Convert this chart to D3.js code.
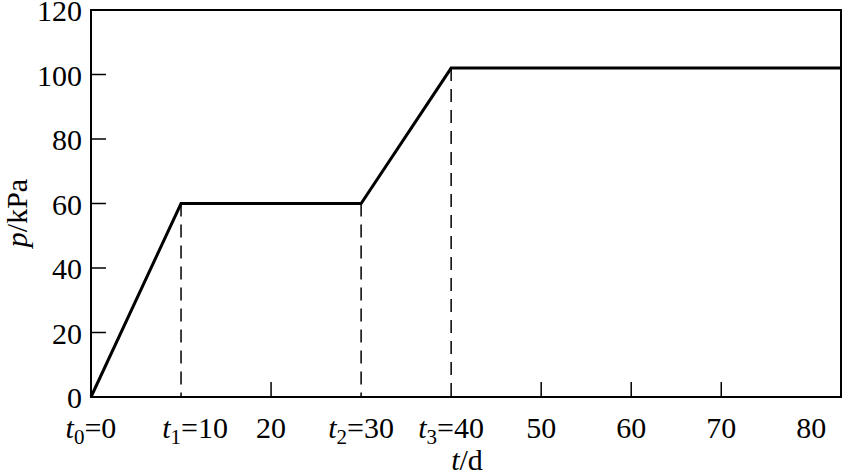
<!DOCTYPE html>
<html>
<head>
<meta charset="utf-8">
<script src="https://cdn.jsdelivr.net/npm/d3@7"></script>
<style>
  html, body { margin: 0; padding: 0; background: #fff; }
  svg { display: block; }
  text { font-family: "Liberation Serif", "Times New Roman", serif; fill: #000; }
</style>
</head>
<body>
<svg id="chart" width="856" height="472"></svg>
<script>
// ---- data ----
const timeDays = [0, 10, 30, 40, 83.3];
const pressureKPa = [0, 60, 60, 102, 102];
const markerTimes = [10, 30, 40];           // dashed drop lines
const yTickValues = [0, 20, 40, 60, 80, 100, 120];
const xTickValues = [0, 10, 20, 30, 40, 50, 60, 70, 80];
// x tick labels: subscript index (or null) and number text
const xTickSub = ["0", "1", null, "2", "3", null, null, null, null];
const xTickNum = ["0", "10", "20", "30", "40", "50", "60", "70", "80"];

// ---- layout ----
const svg = d3.select("#chart");
const L = 91, R = 841, T = 10, B = 397;
const x = d3.scaleLinear().domain([0, 83.3]).range([L, R]);
const y = d3.scaleLinear().domain([0, 120]).range([B, T]);
const fs = 30;

// frame
svg.append("rect").attr("x", L).attr("y", T).attr("width", R - L).attr("height", B - T)
  .attr("fill", "none").attr("stroke", "#000").attr("stroke-width", 2);

// y ticks (inward)
const yInner = yTickValues.filter(v => v > 0 && v < 120);
svg.selectAll(".ytick").data(yInner).enter().append("line")
  .attr("x1", L).attr("x2", L + 15)
  .attr("y1", d => y(d)).attr("y2", d => y(d))
  .attr("stroke", "#000").attr("stroke-width", 1.5);

// y tick labels
svg.selectAll(".ylab").data(yTickValues).enter().append("text")
  .attr("x", L - 9).attr("y", d => y(d) + 11)
  .attr("text-anchor", "end").attr("font-size", fs)
  .text(d => d);

// x ticks (inward) where no dashed line
const xInner = xTickValues.filter(v => v > 0 && v < 80 && !markerTimes.includes(v));
svg.selectAll(".xtick").data(xInner).enter().append("line")
  .attr("x1", d => x(d)).attr("x2", d => x(d))
  .attr("y1", B).attr("y2", B - 15)
  .attr("stroke", "#000").attr("stroke-width", 1.5);

// dashed drop lines
svg.selectAll(".drop").data(markerTimes).enter().append("line")
  .attr("x1", d => x(d)).attr("x2", d => x(d))
  .attr("y1", d => y(pressureKPa[timeDays.indexOf(d)]))
  .attr("y2", B)
  .attr("stroke", "#000").attr("stroke-width", 1.5)
  .attr("stroke-dasharray", "13,8");

// x tick labels
xTickValues.forEach((v, i) => {
  const t = svg.append("text")
    .attr("x", x(v) + (v === 10 ? 14 : 0)).attr("y", 438)
    .attr("text-anchor", "middle").attr("font-size", fs);
  if (xTickSub[i] !== null) {
    t.append("tspan").attr("font-style", "italic").text("t");
    t.append("tspan").attr("font-size", 21).attr("dy", 6).text(xTickSub[i]);
    t.append("tspan").attr("dy", -6).text("=" + xTickNum[i]);
  } else {
    t.text(xTickNum[i]);
  }
});

// x axis title
const xt = svg.append("text").attr("x", 467).attr("y", 470)
  .attr("text-anchor", "middle").attr("font-size", fs);
xt.append("tspan").attr("font-style", "italic").text("t");
xt.append("tspan").text("/d");

// y axis title
const yt = svg.append("text")
  .attr("transform", "translate(27,213) rotate(-90)")
  .attr("text-anchor", "middle").attr("font-size", fs);
yt.append("tspan").attr("font-style", "italic").text("p");
yt.append("tspan").text("/kPa");

// data line
const line = d3.line().x((d, i) => x(timeDays[i])).y(d => y(d));
svg.append("path").datum(pressureKPa)
  .attr("d", line)
  .attr("fill", "none").attr("stroke", "#000").attr("stroke-width", 3)
  .attr("stroke-linejoin", "miter");
</script>
</body>
</html>
